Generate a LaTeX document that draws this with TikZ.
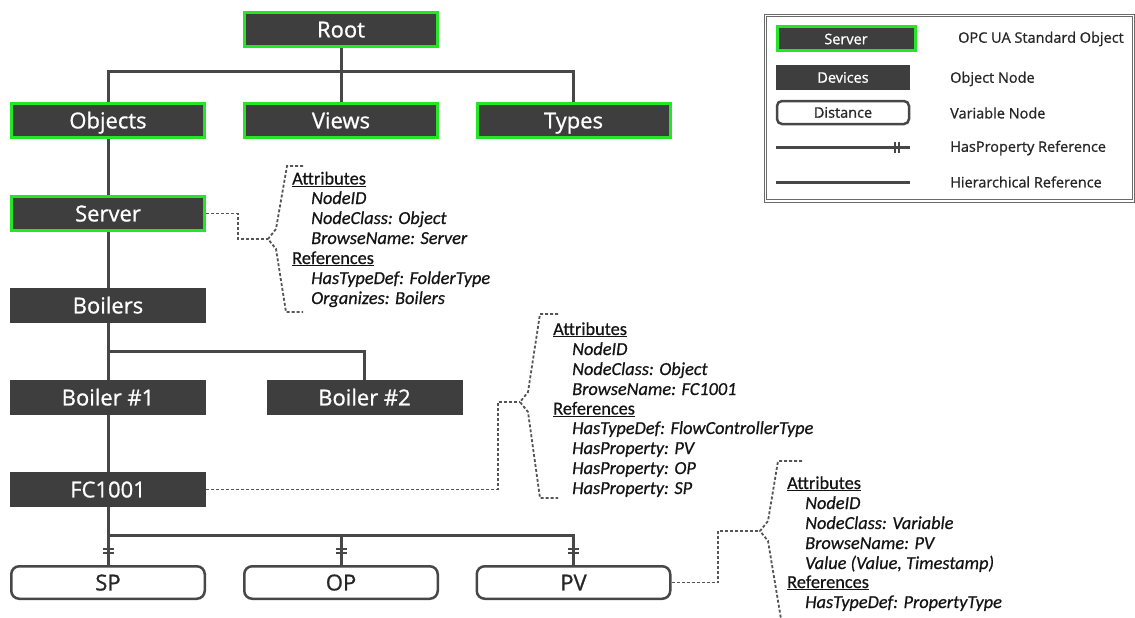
\documentclass[tikz,border=0pt]{standalone}
\usepackage{fontspec}
\setmainfont{Open Sans}
\newfontfamily\boxfont[FakeBold=0.9]{Open Sans}
\newfontfamily\annofont[FakeBold=0.6]{Carlito}
\usetikzlibrary{calc}
\definecolor{boxfill}{HTML}{3E3E3E}
\definecolor{uagreen}{HTML}{24E624}
\definecolor{linegray}{HTML}{474747}
\definecolor{dashgray}{HTML}{555555}
\definecolor{framegray}{HTML}{6A6A6A}
\begin{document}
\begin{tikzpicture}[x=1pt,y=-1pt,
  obj/.style={fill=boxfill, text=white, minimum width=196pt, minimum height=35pt,
    inner sep=0pt, text height=15.8pt, text depth=0pt, font=\boxfont\fontsize{22}{26}\selectfont},
  std/.style={obj, draw=uagreen, line width=3pt, minimum width=193pt, minimum height=34pt},
  varnode/.style={draw=linegray, line width=2.5pt, rounded corners=8pt, fill=white,
    text=black!85, minimum width=193.5pt, minimum height=32.5pt, inner sep=0pt,
    text height=15.8pt, text depth=0pt, font=\boxfont\fontsize{22}{26}\selectfont},
  hier/.style={draw=linegray, line width=3pt},
  hashmark/.style={draw=linegray, line width=2pt},
  annolink/.style={draw=dashgray, line width=1.8pt, dash pattern=on 3pt off 2pt},
  anno/.style={anchor=base west, inner sep=0pt, text=black!92,
    font=\annofont\fontsize{18.3}{20}\selectfont},
  annoit/.style={anno, font=\annofont\itshape\fontsize{18.3}{20}\selectfont},
  legtext/.style={anchor=west, inner sep=0pt, text=black!85, font=\boxfont\fontsize{14.5}{16}\selectfont},
  legbox/.style={font=\boxfont\fontsize{14.5}{16}\selectfont, text height=10.4pt}
]
\useasboundingbox (0,0) rectangle (1135,618);

% ---------- address space tree ----------
\node[std] (root)    at (341,29.5) {Root};
\node[std] (objects) at (108,120.5) {Objects};
\node[std] (views)   at (341,120.5) {Views};
\node[std] (types)   at (573.5,120.5) {Types};
\node[std] (server)  at (108,213.5) {Server};
\node[obj] (boilers) at (108,305.5) {Boilers};
\node[obj] (boiler1) at (108,397.5) {Boiler \#1};
\node[obj] (boiler2) at (364.5,397.5) {Boiler \#2};
\node[obj] (fc)      at (108,489.5) {FC1001};
\node[varnode] (sp)  at (108,582.5) {SP};
\node[varnode] (op)  at (341,582.5) {OP};
\node[varnode] (pv)  at (573.5,582.5) {PV};

\coordinate (bus1) at (341,72);
\coordinate (bus2) at (108,351);
\coordinate (bus3) at (108,535);

% hierarchical references
\draw[hier] (root.south) -- (views.north);
\draw[hier] (objects.north) |- (bus1) -| (types.north);
\draw[hier] (objects.south) -- (server.north);
\draw[hier] (server.south) -- (boilers.north);
\draw[hier] (boilers.south) -- (boiler1.north);
\draw[hier] (bus2) -| (boiler2.north);
\draw[hier] (boiler1.south) -- (fc.north);

% HasProperty references
\draw[hier] (fc.south) -- (sp.north);
\draw[hier] (bus3) -| (pv.north);
\draw[hier] (bus3 -| op.north) -- (op.north);
\foreach \v in {sp,op,pv}{
  \draw[hashmark] ($(\v.north)+(-5.5,-12.5)$) -- ++(11,0);
  \draw[hashmark] ($(\v.north)+(-5.5,-16.5)$) -- ++(11,0);
}

% ---------- Server annotation ----------
\coordinate (tip1) at (268,239);
\draw[annolink] (server.east) -- (238,213.5) |- (tip1);
\draw[annolink] (303,166) -- (287,166) -- (276,229) -- (tip1) -- (276,249) -- (286,312) -- (303,312);
\node[anno]   (s1) at (292,184.5) {\underline{Attributes}};
\node[annoit] (s2) at (311,204)   {NodeID};
\node[annoit] (s3) at (311,224)   {NodeClass: Object};
\node[annoit] (s4) at (311,244)   {BrowseName: Server};
\node[anno]   (s5) at (292,264)   {\underline{References}};
\node[annoit] (s6) at (311,284)   {HasTypeDef: FolderType};
\node[annoit] (s7) at (311,304)   {Organizes: Boilers};

% ---------- FC1001 annotation ----------
\coordinate (tip2) at (520,402);
\draw[annolink] (fc.east) -- (498,489.5) |- (tip2);
\draw[annolink] (558,314) -- (540,314) -- (528,392) -- (tip2) -- (528,412) -- (540,498) -- (558,498);
\node[anno]   (f1) at (553,335)   {\underline{Attributes}};
\node[annoit] (f2) at (572,355)   {NodeID};
\node[annoit] (f3) at (572,375)   {NodeClass: Object};
\node[annoit] (f4) at (572,395)   {BrowseName: FC1001};
\node[anno]   (f5) at (553,414.5) {\underline{References}};
\node[annoit] (f6) at (572,434)   {HasTypeDef: FlowControllerType};
\node[annoit] (f7) at (572,454)   {HasProperty: PV};
\node[annoit] (f8) at (572,474)   {HasProperty: OP};
\node[annoit] (f9) at (572,494)   {HasProperty: SP};

% ---------- PV annotation ----------
\coordinate (tip3) at (760,531);
\draw[annolink] (pv.east) -- (718,582.5) |- (tip3);
\draw[annolink] (802,461) -- (778,461) -- (768,521) -- (tip3) -- (768,541) -- (782,625);
\node[anno]   (p1) at (787,489)   {\underline{Attributes}};
\node[annoit] (p2) at (805,509)   {NodeID};
\node[annoit] (p3) at (805,529)   {NodeClass: Variable};
\node[annoit] (p4) at (805,549)   {BrowseName: PV};
\node[annoit] (p5) at (805,569)   {Value (Value, Timestamp)};
\node[anno]   (p6) at (787,588)   {\underline{References}};
\node[annoit] (p7) at (805,608)   {HasTypeDef: PropertyType};

% ---------- legend ----------
\draw[framegray, line width=0.8pt] (764,14) rectangle (1134.6,202);
\draw[framegray, line width=0.8pt] (766.5,16.5) rectangle (1132,199.5);
\node[std, legbox, minimum width=138pt, minimum height=24pt] (lgserver) at (846,39) {Server};
\node[obj, legbox, minimum width=134pt, minimum height=25pt] (lgdev) at (843,77.5) {Devices};
\node[varnode, legbox, rounded corners=5pt, minimum width=132pt, minimum height=23pt] (lgvar) at (843,112.5) {Distance};
\coordinate (lghpA) at (776,147);
\coordinate (lghpB) at (910,147);
\draw[hier] (lghpA) -- (lghpB);
\draw[hashmark] ($(lghpB)+(-15,-5.5)$) -- ++(0,11);
\draw[hashmark] ($(lghpB)+(-11,-5.5)$) -- ++(0,11);
\coordinate (lghrA) at (776,182);
\coordinate (lghrB) at (910,182);
\draw[hier] (lghrA) -- (lghrB);
\node[legtext] (lt1) at (958,39)  {OPC UA Standard Object};
\node[legtext] (lt2) at (950,79)  {Object Node};
\node[legtext] (lt3) at (950,113) {Variable Node};
\node[legtext] (lt4) at (950,148) {HasProperty Reference};
\node[legtext] (lt5) at (950,182) {Hierarchical Reference};
\end{tikzpicture}
\end{document}
